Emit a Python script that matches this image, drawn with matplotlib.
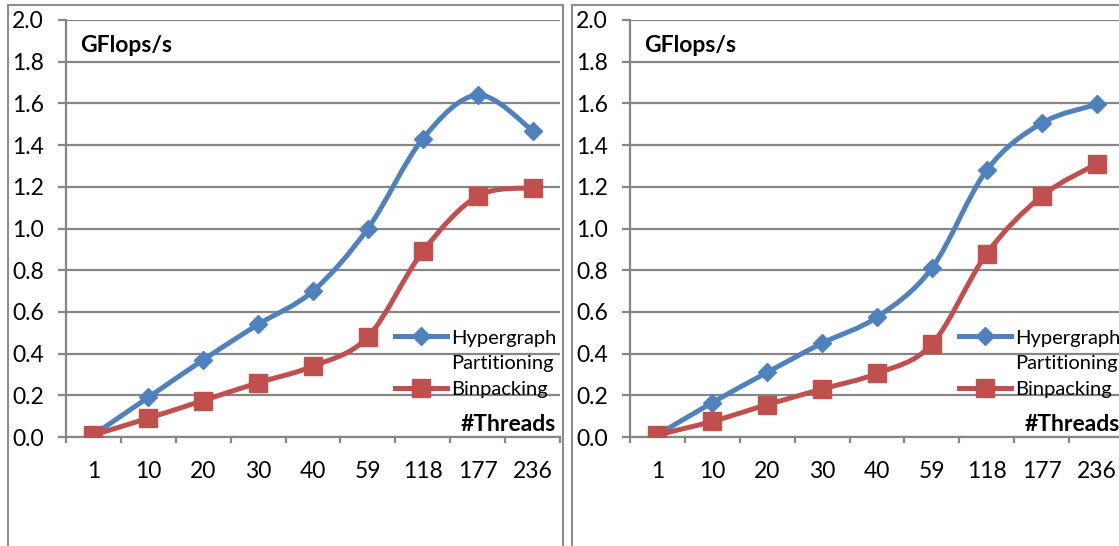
import matplotlib
matplotlib.use("Agg")
import matplotlib.pyplot as plt
from matplotlib.path import Path
from matplotlib.patches import PathPatch, Rectangle
from matplotlib.lines import Line2D
import numpy as np

# data
threads = ["1", "10", "20", "30", "40", "59", "118", "177", "236"]
left_hyper = [0.01, 0.19, 0.37, 0.54, 0.70, 1.00, 1.43, 1.64, 1.47]
left_bin = [0.01, 0.09, 0.175, 0.26, 0.34, 0.48, 0.89, 1.155, 1.195]
right_hyper = [0.01, 0.165, 0.31, 0.45, 0.575, 0.81, 1.28, 1.505, 1.595]
right_bin = [0.01, 0.075, 0.155, 0.23, 0.305, 0.445, 0.88, 1.155, 1.31]

blue = "#4F81BD"
red = "#C0504D"
grid_col = "#868686"
fs = 16.5
leg_fs = 14.5
lw = 3.6

plt.rcParams['font.family'] = ['Lato', 'DejaVu Sans']


def smooth_path(xs, ys):
    # excel-like smoothed line: bezier through every point
    pts = np.column_stack([xs, ys]).astype(float)
    n = len(pts)
    verts = [pts[0]]
    codes = [Path.MOVETO]
    for i in range(n - 1):
        p0 = pts[i - 1] if i > 0 else pts[i]
        p1 = pts[i]
        p2 = pts[i + 1]
        p3 = pts[i + 2] if i + 2 < n else pts[i + 1]
        c1 = p1 + (p2 - p0) / 6.0
        c2 = p2 - (p3 - p1) / 6.0
        verts += [c1, c2, p2]
        codes += [Path.CURVE4] * 3
    return Path(verts, codes)


def draw_panel(ax, hyper, binp):
    x = np.arange(len(threads))
    ax.set_xlim(-0.5, len(threads) - 0.5)
    ax.set_ylim(0, 2.0)
    ax.set_yticks(np.arange(0, 2.01, 0.2))
    ax.set_yticklabels(["%.1f" % v for v in np.arange(0, 2.01, 0.2)])
    ax.yaxis.grid(True, color=grid_col, lw=1.6)
    ax.set_axisbelow(True)
    for s in ["top", "right"]:
        ax.spines[s].set_visible(False)
    for s in ["left", "bottom"]:
        ax.spines[s].set_color(grid_col)
        ax.spines[s].set_linewidth(1.6)
    ax.tick_params(axis="y", length=6, width=1.6, color=grid_col, pad=10,
                   labelsize=fs)
    # category boundaries carry the ticks, labels sit at the centres
    ax.set_xticks(np.arange(-0.5, len(threads)), minor=False)
    ax.set_xticklabels([])
    ax.set_xticks(x, minor=True)
    ax.set_xticklabels(threads, minor=True)
    ax.tick_params(axis="x", which="major", length=4, width=1.6,
                   color=grid_col)
    ax.tick_params(axis="x", which="minor", length=0, pad=17, labelsize=fs)

    for vals, col in [(hyper, blue), (binp, red)]:
        ax.add_patch(PathPatch(smooth_path(x, vals), fill=False, edgecolor=col,
                               lw=lw, capstyle="round", zorder=3))
    ax.plot(x, hyper, linestyle="none", marker="D", ms=9.5, color=blue,
            zorder=4)
    ax.plot(x, binp, linestyle="none", marker="s", ms=13, color=red,
            zorder=4)

    ax.text(0.028, 0.94, "GFlops/s", transform=ax.transAxes, fontsize=fs,
            fontweight="bold", va="center", ha="left")
    ax.text(0.992, 0.029, "#Threads", transform=ax.transAxes, fontsize=fs,
            fontweight="bold", va="center", ha="right")

    h1 = Line2D([], [], color=blue, lw=lw, marker="D", ms=9.5)
    h2 = Line2D([], [], color="none", lw=0)
    h3 = Line2D([], [], color=red, lw=lw, marker="s", ms=13)
    ax.legend([h1, h2, h3], ["Hypergraph", "Partitioning", "Binpacking"],
              loc="upper left", bbox_to_anchor=(0.666, 0.258), frameon=False,
              fontsize=leg_fs, handlelength=2.58, handletextpad=0.2,
              labelspacing=0.42, borderpad=0, borderaxespad=0)


fig = plt.figure(figsize=(11.19, 5.46), dpi=100)
W, H = 1119.0, 546.0

# chart frames
fig.patches.append(Rectangle((8 / W, -0.01), 555 / W, (541 / H) + 0.01,
                             transform=fig.transFigure, fill=False,
                             edgecolor="#8c8c8c", lw=1.5))
fig.patches.append(Rectangle((572 / W, -0.01), 600 / W, (541 / H) + 0.01,
                             transform=fig.transFigure, fill=False,
                             edgecolor="#8c8c8c", lw=1.5))

ax1 = fig.add_axes([66 / W, 109 / H, 494 / W, 417 / H])
draw_panel(ax1, left_hyper, left_bin)
ax2 = fig.add_axes([630 / W, 109 / H, 494 / W, 417 / H])
draw_panel(ax2, right_hyper, right_bin)

fig.savefig("out.png", dpi=100)
